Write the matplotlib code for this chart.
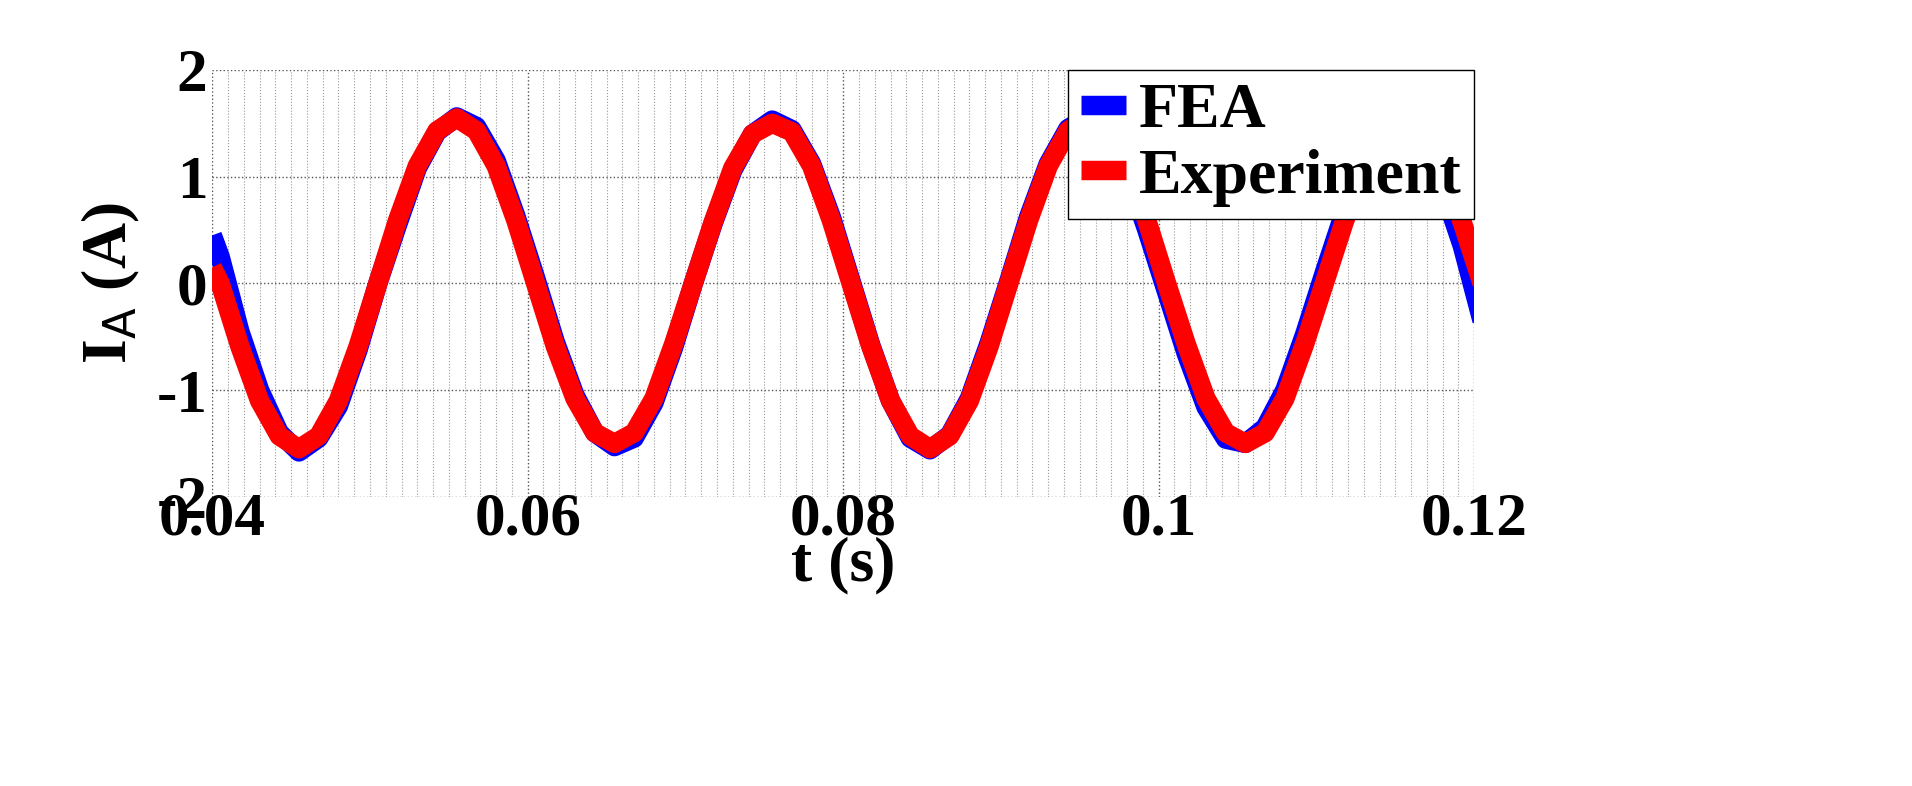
import numpy as np
import matplotlib
matplotlib.use('Agg')
import matplotlib.pyplot as plt
from matplotlib.ticker import MultipleLocator

plt.rcParams['axes.unicode_minus'] = False
t0 = 0.0405
dt = 0.00125
exp_vals = [0, -0.59, -1.10, -1.43, -1.55, -1.43, -1.10, -0.59, 0, 0.59, 1.10, 1.43, 1.55,
            1.43, 1.10, 0.59, 0, -0.59, -1.08, -1.40, -1.50, -1.40, -1.08, -0.57, 0, 0.57,
            1.08, 1.40, 1.50, 1.42, 1.10, 0.59, 0, -0.59, -1.10, -1.43, -1.55, -1.43, -1.10,
            -0.59, 0, 0.59, 1.10, 1.43, 1.55, 1.43, 1.10, 0.59, 0, -0.57, -1.08, -1.40, -1.50,
            -1.40, -1.08, -0.57, 0, 0.57, 1.08, 1.40, 1.50, 1.40, 1.08, 0.57, 0]
fea_vals = [0.25, -0.45, -1.00, -1.40, -1.58, -1.45, -1.15, -0.62, 0, 0.55, 1.08, 1.42, 1.56,
            1.47, 1.15, 0.63, 0.05, -0.55, -1.05, -1.40, -1.53, -1.45, -1.12, -0.60, 0, 0.56,
            1.06, 1.40, 1.53, 1.44, 1.12, 0.62, 0.02, -0.58, -1.10, -1.45, -1.56, -1.42, -1.08,
            -0.56, 0.02, 0.62, 1.12, 1.45, 1.56, 1.40, 1.04, 0.50, -0.08, -0.66, -1.16, -1.46, -1.50,
            -1.35, -1.00, -0.48, 0.10, 0.66, 1.15, 1.45, 1.48, 1.30, 0.90, 0.35, -0.35]
exp_start, fea_start = 0.15, 0.45

t_exp = np.concatenate([[0.04], t0 + dt*np.arange(len(exp_vals))])
t_fea = np.concatenate([[0.04], t0 + dt*np.arange(len(fea_vals))])
y_exp = np.concatenate([[exp_start], exp_vals])
y_fea = np.concatenate([[fea_start], fea_vals])

fig = plt.figure(figsize=(19.12, 7.86), dpi=100)
ax = fig.add_axes([0.111, 0.368, 0.66, 0.543])
ax.plot(t_fea, y_fea, color='#0000ff', lw=14, label='FEA', solid_capstyle='butt', solid_joinstyle='round')
ax.plot(t_exp, y_exp, color='#ff0000', lw=14, label='Experiment', solid_capstyle='butt', solid_joinstyle='round')
ax.set_xlim(0.04, 0.12)
ax.set_ylim(-2, 2)
ax.set_xticks([0.04, 0.06, 0.08, 0.1, 0.12])
ax.set_xticklabels(['0.04', '0.06', '0.08', '0.1', '0.12'])
ax.set_yticks([-2, -1, 0, 1, 2])
ax.xaxis.set_minor_locator(MultipleLocator(0.001))
ax.grid(True, which='major', ls=':', color='#555555', lw=1)
ax.grid(True, which='minor', axis='x', ls=':', color='#999999', lw=0.8)
ax.tick_params(which='both', length=0)
for s in ax.spines.values():
    s.set_visible(False)
fp = dict(family='Liberation Serif', weight='bold')
for lab in ax.get_xticklabels() + ax.get_yticklabels():
    lab.set_fontfamily('Liberation Serif'); lab.set_fontweight('bold'); lab.set_fontsize(44)
ax.tick_params(axis='x', pad=-4)
ax.set_xlabel('t (s)', fontsize=46, labelpad=-8, **fp)
plt.rcParams['mathtext.fontset'] = 'custom'
plt.rcParams['mathtext.rm'] = 'Liberation Serif:bold'
plt.rcParams['mathtext.it'] = 'Liberation Serif:bold'
ax.set_ylabel(r'I$_{\mathrm{A}}$ (A)', fontsize=46, labelpad=10, **fp)
leg = ax.legend(loc='upper right', prop=dict(family='Liberation Serif', weight='bold', size=46),
                frameon=True, fancybox=False, edgecolor='black', framealpha=1, borderpad=0.2,
                handlelength=0.7, handletextpad=0.2, labelspacing=0.1, borderaxespad=0.0)
leg.get_frame().set_linewidth(1)
leg.set_zorder(5)
fig.savefig('out.png', dpi=100)
